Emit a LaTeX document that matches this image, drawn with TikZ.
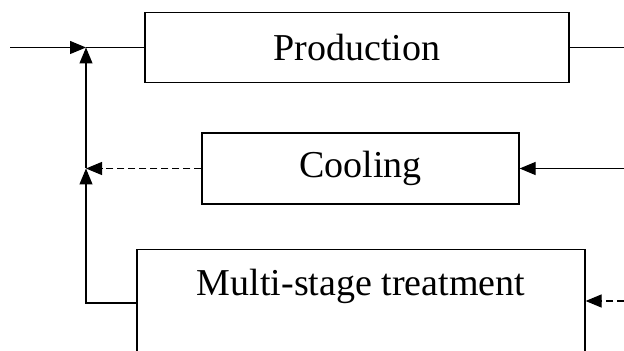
\documentclass[tikz,border=0pt]{standalone}
\usepackage{fontspec}
\setmainfont{Liberation Serif}
\usetikzlibrary{arrows.meta}

\tikzset{
  box/.style={draw, line width=0.6pt, inner sep=0pt, font=\fontsize{19}{22}\selectfont},
  flow/.style={-{Triangle[length=8pt,width=6.5pt]}, line width=0.6pt},
  flowdash/.style={flow, dash pattern=on 3.5pt off 2pt}
}

\begin{document}
\begin{tikzpicture}[x=0.5pt, y=-0.5pt]

    \useasboundingbox (0,0) rectangle (624,351);
    \clip (0,0) rectangle (624,351);

    % Draw the three boxes
    \node[box, minimum width=212pt, minimum height=35pt] (prod) at (357,47.5) {Production};
    \node[box, minimum width=158.5pt, minimum height=35.5pt] (cool) at (360.5,168.5) {Cooling};
    \node[box, minimum width=224pt, anchor=north, text height=12.5pt, text depth=42pt,
          inner ysep=10.5pt] (treat) at (361,249) {Multi-stage treatment};

    % Points where the lines meet, and the free ends
    \coordinate (j1) at (86,47.5);
    \coordinate (j2) at (86,168.5);
    \coordinate (bend) at (86,303);
    \coordinate (inL) at (10,47.5);
    \coordinate (outR) at (624,47.5);
    \coordinate (coolIn) at (624,168.5);
    \coordinate (treatIn) at (624,301);

    % Draw the main line through production
    \draw[flow] (inL) -- (j1);
    \draw[line width=0.6pt] (j1) -- (prod.west);
    \draw[line width=0.6pt] (prod.east) -- (outR);

    % Draw the return lines on the left
    \draw[flow] (j2) -- (j1);
    \draw[flowdash] (cool.west) -- (j2);
    \draw[flow] (treat.west |- bend) -- (bend) -- (j2);

    % Draw the arrows coming in on the right
    \draw[flow] (coolIn) -- (cool.east);
    \draw[flowdash] (treatIn) -- (treat.east |- treatIn);

\end{tikzpicture}
\end{document}
